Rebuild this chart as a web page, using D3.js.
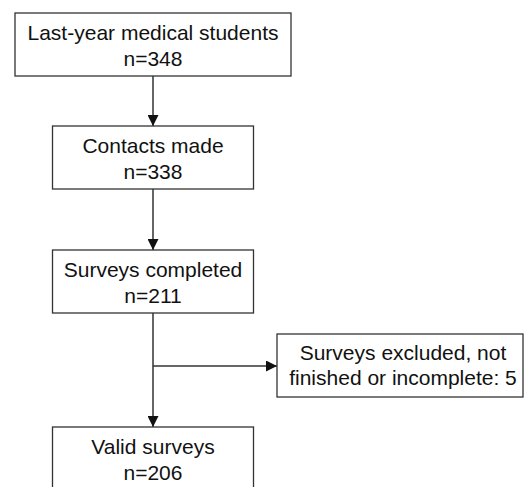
<!DOCTYPE html>
<html>
<head>
<meta charset="utf-8">
<script src="https://cdn.jsdelivr.net/npm/d3@7"></script>
<style>
  html, body { margin: 0; padding: 0; background: #ffffff; }
  svg text { font-family: "Liberation Sans", Arial, sans-serif; font-size: 21px; fill: #111; }
</style>
</head>
<body>
<svg id="chart" width="526" height="487"></svg>
<script>
// Flow steps (main column), top to bottom
var stepLabels = ["Last-year medical students", "Contacts made", "Surveys completed", "Valid surveys"];
var stepCounts = [348, 338, 211, 206];

// Exclusion branch off step 3
var excludedLines = ["Surveys excluded, not", "finished or incomplete: "];
var excludedCount = 5;

// Layout (pixels)
var centerX = 153;
var boxTops = [13, 126, 250, 427];
var boxWidths = [276, 201, 201, 201];
var boxHeight = 63;
var side = { x: 277, y: 334, w: 246, h: 63, textX: 403 };
var branchY = 366;
var lineColor = "#333";

var svg = d3.select("#chart");

// arrow marker
svg.append("defs").append("marker")
  .attr("id", "arrow")
  .attr("viewBox", "0 0 10 10")
  .attr("refX", 10)
  .attr("refY", 5)
  .attr("markerWidth", 12)
  .attr("markerHeight", 11)
  .attr("markerUnits", "userSpaceOnUse")
  .attr("orient", "auto")
  .append("path")
  .attr("d", "M0,0 L10,5 L0,10 Z")
  .style("fill", "#111");

// connectors between main boxes
d3.range(stepLabels.length - 1).forEach(function(i) {
  svg.append("line")
    .attr("x1", centerX).attr("y1", boxTops[i] + boxHeight)
    .attr("x2", centerX).attr("y2", boxTops[i + 1])
    .style("stroke", lineColor)
    .style("stroke-width", 1.5)
    .attr("marker-end", "url(#arrow)");
});

// branch to excluded box
svg.append("line")
  .attr("x1", centerX).attr("y1", branchY)
  .attr("x2", side.x).attr("y2", branchY)
  .style("stroke", lineColor)
  .style("stroke-width", 1.5)
  .attr("marker-end", "url(#arrow)");

// main boxes
var boxes = svg.selectAll("g.step")
  .data(stepLabels)
  .enter().append("g")
  .attr("class", "step");

boxes.append("rect")
  .attr("x", function(d, i) { return centerX - boxWidths[i] / 2; })
  .attr("y", function(d, i) { return boxTops[i]; })
  .attr("width", function(d, i) { return boxWidths[i]; })
  .attr("height", boxHeight)
  .style("fill", "#fff")
  .style("stroke", lineColor)
  .style("stroke-width", 1.3);

boxes.append("text")
  .attr("x", centerX)
  .attr("y", function(d, i) { return boxTops[i] + 27; })
  .attr("text-anchor", "middle")
  .text(function(d) { return d; });

boxes.append("text")
  .attr("x", centerX)
  .attr("y", function(d, i) { return boxTops[i] + 53; })
  .attr("text-anchor", "middle")
  .text(function(d, i) { return "n=" + stepCounts[i]; });

// excluded box
svg.append("rect")
  .attr("x", side.x).attr("y", side.y)
  .attr("width", side.w).attr("height", side.h)
  .style("fill", "#fff")
  .style("stroke", lineColor)
  .style("stroke-width", 1.3);

svg.append("text")
  .attr("x", side.textX).attr("y", side.y + 26)
  .attr("text-anchor", "middle")
  .text(excludedLines[0]);

svg.append("text")
  .attr("x", side.textX).attr("y", side.y + 51)
  .attr("text-anchor", "middle")
  .text(excludedLines[1] + excludedCount);
</script>
</body>
</html>
